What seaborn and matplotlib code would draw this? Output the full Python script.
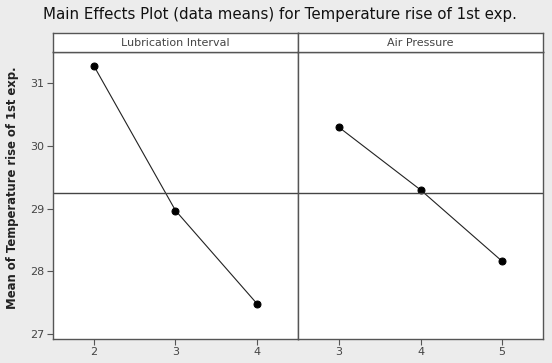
import matplotlib
matplotlib.use("Agg")
import matplotlib.pyplot as plt
import seaborn as sns
import pandas as pd
import numpy as np

title = "Main Effects Plot (data means) for Temperature rise of 1st exp."
ylabel = "Mean of Temperature rise of 1st exp."
factors = ["Lubrication Interval", "Air Pressure"]
lub_levels = [2, 3, 4]
lub_means = [31.28, 28.97, 27.48]
air_levels = [3, 4, 5]
air_means = [30.30, 29.30, 28.16]
yticks = [27, 28, 29, 30, 31]

sns.set_style("white")
plt.rcParams['font.family'] = ['DejaVu Sans']

bg = "#ececec"
fig = plt.figure(figsize=(5.52, 3.63), dpi=100, facecolor=bg)
W, H = 552, 363
left, right, top, bottom = 53, 543, 52, 339
strip_top = 33
mid = 298

def fx(px): return px / W
def fy(py): return 1 - py / H

grand = np.mean(lub_means + air_means)
datasets = [(lub_levels, lub_means, (1.5, 4.5)), (air_levels, air_means, (2.5, 5.5))]
edges = [(left, mid), (mid, right)]
for i, ((lv, mv, xl), (x0, x1)) in enumerate(zip(datasets, edges)):
    ax = fig.add_axes([fx(x0), fy(bottom), fx(x1 - x0), (bottom - top) / H])
    df = pd.DataFrame({"level": lv, "mean": mv})
    sns.lineplot(data=df, x="level", y="mean", ax=ax, color="#222222", lw=0.8,
                 marker="o", markersize=5, markerfacecolor="black", markeredgecolor="black")
    ax.axhline(grand, color="#444444", lw=1.0)
    ax.set_xlim(*xl)
    ax.set_ylim(26.92, 31.5)
    ax.set_xticks(lv)
    ax.set_xticklabels([str(v) for v in lv], color="#444444", fontsize=8)
    ax.set_xlabel("")
    ax.set_ylabel("")
    ax.set_facecolor("white")
    for s in ax.spines.values():
        s.set_color("#555555"); s.set_linewidth(1.0)
    ax.tick_params(axis="x", bottom=True, length=4, width=0.8, color="#555555", pad=2)
    if i == 0:
        ax.set_yticks(yticks)
        ax.set_yticklabels([str(v) for v in yticks], color="#444444", fontsize=8)
        ax.tick_params(axis="y", left=True, length=4, width=0.8, color="#555555", pad=2)
    else:
        ax.set_yticks([])
    # strip
    sax = fig.add_axes([fx(x0), fy(top), fx(x1 - x0), (top - strip_top) / H])
    sax.set_facecolor("white")
    sax.set_xticks([]); sax.set_yticks([])
    for s in sax.spines.values():
        s.set_color("#555555"); s.set_linewidth(1.0)
    sax.text(0.5, 0.5, factors[i], ha="center", va="center", fontsize=8.0,
             color="#444444", transform=sax.transAxes)

fig.text(fx(280), fy(15), title, ha="center", va="center", fontsize=10.85, color="#111111")
fig.text(fx(13), fy(188), ylabel, ha="center", va="center", rotation=90,
         fontsize=8.4, fontweight="bold", color="#222222")

fig.savefig("out.png", dpi=100, facecolor=bg)
